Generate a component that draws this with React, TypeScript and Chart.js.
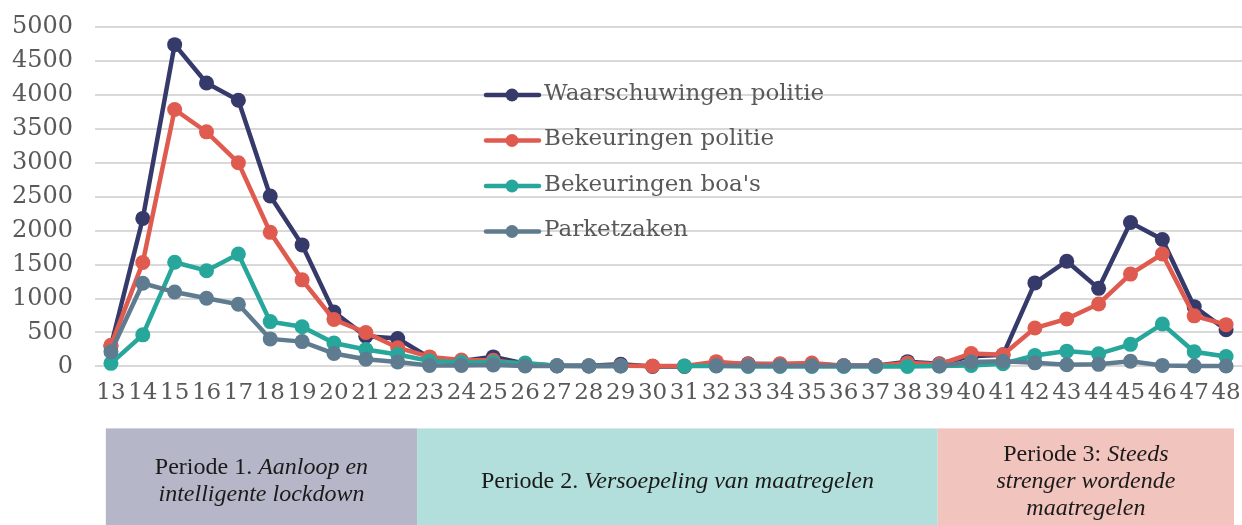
import { useEffect, useRef } from "react";
import { Chart, registerables } from "chart.js";

Chart.register(...registerables);

// ---- Data ----
const weeks = [
  "13", "14", "15", "16", "17", "18", "19", "20", "21", "22", "23", "24",
  "25", "26", "27", "28", "29", "30", "31", "32", "33", "34", "35", "36",
  "37", "38", "39", "40", "41", "42", "43", "44", "45", "46", "47", "48",
];

const waarschuwingenPolitie: (number | null)[] = [
  300, 2180, 4740, 4175, 3920, 2510, 1790, 800, 445, 410, 130, 80,
  140, 40, 10, 10, 30, 0, 0, 40, 40, 30, 30, 10,
  10, 70, 40, 150, 170, 1230, 1550, 1150, 2120, 1870, 880, 540,
];

const bekeuringenPolitie: (number | null)[] = [
  310, 1530, 3785, 3455, 3000, 1975, 1275, 690, 500, 275, 140, 95,
  90, 30, 10, 5, 10, 5, 5, 70, 30, 40, 50, 10,
  10, 50, 30, 190, 172, 565, 700, 920, 1360, 1655, 745, 615,
];

const bekeuringenBoas: (number | null)[] = [
  45, 465, 1535, 1410, 1655, 660, 585, 345, 250, 175, 80, 60,
  60, 50, 10, 5, 5, null, 5, 5, 0, 0, 0, 0,
  0, 0, 5, 15, 40, 160, 225, 185, 325, 625, 215, 145,
];

const parketzaken: (number | null)[] = [
  215, 1225, 1095, 1005, 915, 405, 365, 190, 105, 65, 15, 15,
  20, 5, 5, 5, 5, null, null, 10, 10, 10, 10, 10,
  10, null, 5, 65, 75, 52, 25, 30, 75, 15, 5, 5,
];

const seriesNames = [
  "Waarschuwingen politie",
  "Bekeuringen politie",
  "Bekeuringen boa's",
  "Parketzaken",
];

const yTicks = [0, 500, 1000, 1500, 2000, 2500, 3000, 3500, 4000, 4500, 5000];

// Period bands (in week units) and their labels: [text, italic]
const periodBounds = [12.84, 22.61, 38.95, 48.25];
const periodLabels: [string, boolean][][][] = [
  [
    [["Periode 1. ", false], ["Aanloop en", true]],
    [["intelligente lockdown", true]],
  ],
  [[["Periode 2. ", false], ["Versoepeling van maatregelen", true]]],
  [
    [["Periode 3: ", false], ["Steeds", true]],
    [["strenger wordende", true]],
    [["maatregelen", true]],
  ],
];

// ---- Styles ----
const COLORS = ["#363a6b", "#e05b4f", "#27a79b", "#5f7b8f"];
const PERIOD_FILLS = ["#b5b6c8", "#b2dfdb", "#f2c4be"];
const TEXT_COLOR = "#595959";
const FONT_FAMILY = "'DejaVu Serif', serif";
const BOX_FONT = "'Liberation Serif', serif";
const BOX_FONT_SIZE = 24;

const legendPlugin = {
  id: "customLegend",
  afterDatasetsDraw(chart: any) {
    const { ctx, chartArea } = chart;
    const x0 = chartArea.left + 389;
    const y0 = chartArea.top + 68;
    const gap = 45.5;
    ctx.save();
    chart.data.datasets.forEach((ds: any, i: number) => {
      const y = y0 + i * gap;
      ctx.strokeStyle = ds.borderColor;
      ctx.lineWidth = 4.5;
      ctx.lineCap = "round";
      ctx.beginPath();
      ctx.moveTo(x0 + 2, y);
      ctx.lineTo(x0 + 55, y);
      ctx.stroke();
      ctx.fillStyle = ds.borderColor;
      ctx.beginPath();
      ctx.arc(x0 + 28, y, 6.5, 0, Math.PI * 2);
      ctx.fill();
      ctx.fillStyle = TEXT_COLOR;
      ctx.font = `23px ${FONT_FAMILY}`;
      ctx.textBaseline = "middle";
      ctx.textAlign = "left";
      ctx.fillText(ds.label, x0 + 60, y - 1);
    });
    ctx.restore();
  },
};

const periodPlugin = {
  id: "periodBands",
  afterDraw(chart: any) {
    const { ctx, chartArea } = chart;
    const xs = chart.scales.x;
    const top = chartArea.bottom + 62;
    const bottom = chart.height;
    const first = Number(weeks[0]);
    ctx.save();
    for (let i = 0; i < periodLabels.length; i++) {
      const x1 = xs.getPixelForValue(periodBounds[i] - first);
      const x2 = xs.getPixelForValue(periodBounds[i + 1] - first);
      ctx.fillStyle = PERIOD_FILLS[i];
      ctx.fillRect(x1, top, x2 - x1, bottom - top);
      const lines = periodLabels[i];
      const lh = 27;
      const cx = (x1 + x2) / 2;
      const cy = top + 53;
      const startY = cy - ((lines.length - 1) * lh) / 2;
      ctx.fillStyle = "#1a1a1a";
      ctx.textBaseline = "middle";
      ctx.textAlign = "left";
      lines.forEach((segs, li) => {
        let total = 0;
        const widths = segs.map(([t, it]) => {
          ctx.font = `${it ? "italic " : ""}${BOX_FONT_SIZE}px ${BOX_FONT}`;
          const w = ctx.measureText(t).width;
          total += w;
          return w;
        });
        let x = cx - total / 2;
        const y = startY + li * lh;
        segs.forEach(([t, it], si) => {
          ctx.font = `${it ? "italic " : ""}${BOX_FONT_SIZE}px ${BOX_FONT}`;
          ctx.fillText(t, x, y);
          x += widths[si];
        });
      });
    }
    ctx.restore();
  },
};

export default function App() {
  const ref = useRef<HTMLCanvasElement | null>(null);

  useEffect(() => {
    document.body.style.margin = "0";
    const canvas = ref.current;
    if (!canvas) return;
    const allSeries = [waarschuwingenPolitie, bekeuringenPolitie, bekeuringenBoas, parketzaken];
    const chart = new Chart(canvas, {
      type: "line",
      data: {
        labels: weeks,
        datasets: allSeries.map((d, i) => ({
          label: seriesNames[i],
          data: d,
          borderColor: COLORS[i],
          backgroundColor: COLORS[i],
          pointBackgroundColor: COLORS[i],
          pointBorderColor: COLORS[i],
          borderWidth: 4.5,
          pointRadius: 7.5,
          pointBorderWidth: 0,
          tension: 0,
          spanGaps: false,
          clip: false as any,
          order: 4 - i,
        })),
      },
      options: {
        responsive: false,
        animation: false,
        devicePixelRatio: 1,
        layout: { autoPadding: false, padding: { top: 27, right: 0, bottom: 113, left: 8 } },
        plugins: {
          legend: { display: false },
          tooltip: { enabled: false },
        },
        scales: {
          x: {
            type: "category",
            offset: true,
            grid: { display: false },
            border: { display: false },
            afterFit: (axis: any) => {
              axis.paddingLeft = 0;
              axis.paddingRight = 0;
            },
            ticks: {
              autoSkip: false,
              maxRotation: 0,
              minRotation: 0,
              color: TEXT_COLOR,
              padding: 5,
              font: { family: FONT_FAMILY, size: 23 },
            },
          },
          y: {
            min: 0,
            max: 5000,
            afterBuildTicks: (axis: any) => {
              axis.ticks = yTicks.map((v) => ({ value: v }));
            },
            afterFit: (axis: any) => {
              axis.width = 87;
              axis.paddingTop = 0;
              axis.paddingBottom = 0;
            },
            grid: { color: "#d9d9d9", lineWidth: 2, drawTicks: false },
            border: { display: false },
            ticks: {
              color: TEXT_COLOR,
              padding: 22,
              font: { family: FONT_FAMILY, size: 24 },
              callback: (v: any) => String(v),
            },
          },
        },
      },
      plugins: [legendPlugin, periodPlugin],
    });
    return () => chart.destroy();
  }, []);

  return (
    <canvas
      ref={ref}
      width={1242}
      height={525}
      style={{ display: "block", width: 1242, height: 525 }}
    />
  );
}
